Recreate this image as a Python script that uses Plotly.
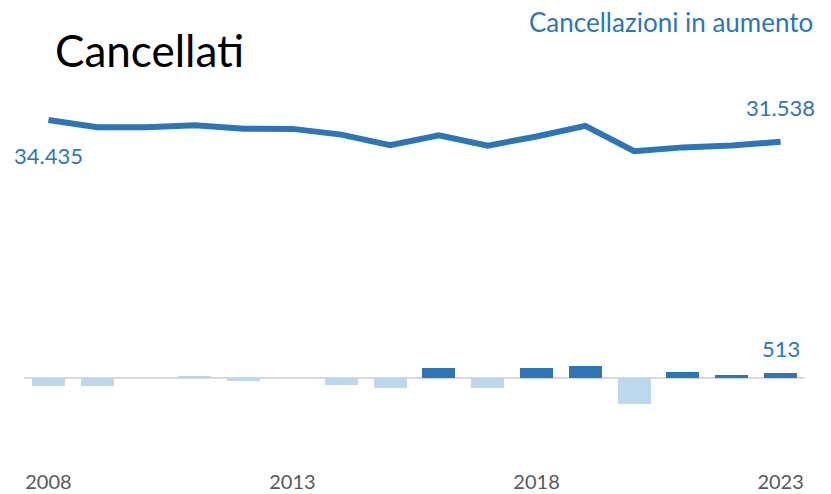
import plotly.graph_objects as go

years = list(range(2008, 2024))
cancellati = [34435, 33480, 33470, 33720, 33260, 33250, 32480, 31060,
              32400, 31020, 32230, 33650, 30280, 30780, 31025, 31538]
variazioni = [-1000, -960, 0, 220, -400, 0, -900, -1250,
              1200, -1250, 1120, 1400, -3150, 640, 280, 513]
tick_years = [2008, 2013, 2018, 2023]
title_text = "Cancellati"
subtitle_text = "Cancellazioni in aumento"

DARK = "#2E75B6"
LIGHT = "#BDD7EE"
bar_colors = [DARK if (v > 0 and y != 2011) else LIGHT for y, v in zip(years, variazioni)]

def fmt(v):
    return f"{v:,}".replace(",", ".")

FONT = "Lato"

fig = go.Figure()
fig.add_trace(go.Bar(x=years, y=variazioni, marker=dict(color=bar_colors, line=dict(width=0)),
                     width=0.675, yaxis="y", hoverinfo="x+y"))
fig.add_trace(go.Scatter(x=years, y=cancellati, mode="lines", yaxis="y2",
                         line=dict(color=DARK, width=6), hoverinfo="x+y"))

W, H = 831, 494
L, R, T, B = 24, 26, 0, 34
PW, PH = W - L - R, H - T - B

fig.update_layout(
    width=W, height=H,
    margin=dict(l=L, r=R, t=T, b=B, autoexpand=False),
    paper_bgcolor="white", plot_bgcolor="white",
    showlegend=False,
    bargap=0,
    xaxis=dict(range=[2007.5, 2023.5], tickvals=tick_years, ticktext=[str(t) for t in tick_years],
               showgrid=False, zeroline=False, showline=False, ticks="outside", ticklen=4,
               tickcolor="rgba(0,0,0,0)", automargin=False,
               tickfont=dict(family=FONT, size=20, color="#595959")),
    yaxis=dict(range=[-9876, 45324], showgrid=False, showticklabels=False, automargin=False,
               zeroline=True, zerolinecolor="#D9D9D9", zerolinewidth=2),
    yaxis2=dict(range=[-10955, 50455], overlaying="y", showgrid=False, automargin=False,
                showticklabels=False, zeroline=False),
    annotations=[
        dict(text=title_text, x=(53 - L) / PW, y=(PH - 50) / PH, xref="paper", yref="paper",
             showarrow=False, xanchor="left", yanchor="middle",
             font=dict(family=FONT, size=44, color="black")),
        dict(text=subtitle_text, x=(815 - L) / PW, y=(PH - 22) / PH, xref="paper", yref="paper",
             showarrow=False, xanchor="right", yanchor="middle",
             font=dict(family=FONT, size=26, color=DARK)),
        dict(text=fmt(cancellati[0]), x=years[0], y=cancellati[0], xref="x", yref="y2",
             showarrow=False, yshift=-35, font=dict(family=FONT, size=22, color=DARK)),
        dict(text=fmt(cancellati[-1]), x=years[-1], y=cancellati[-1], xref="x", yref="y2",
             showarrow=False, yshift=34, font=dict(family=FONT, size=22, color=DARK)),
        dict(text=fmt(variazioni[-1]), x=years[-1], y=variazioni[-1], xref="x", yref="y",
             showarrow=False, yshift=25, font=dict(family=FONT, size=22, color=DARK)),
    ],
)

fig.write_html("out.html", config={"displayModeBar": False},
               post_script="document.body.style.margin='0';document.body.style.overflow='hidden';")
